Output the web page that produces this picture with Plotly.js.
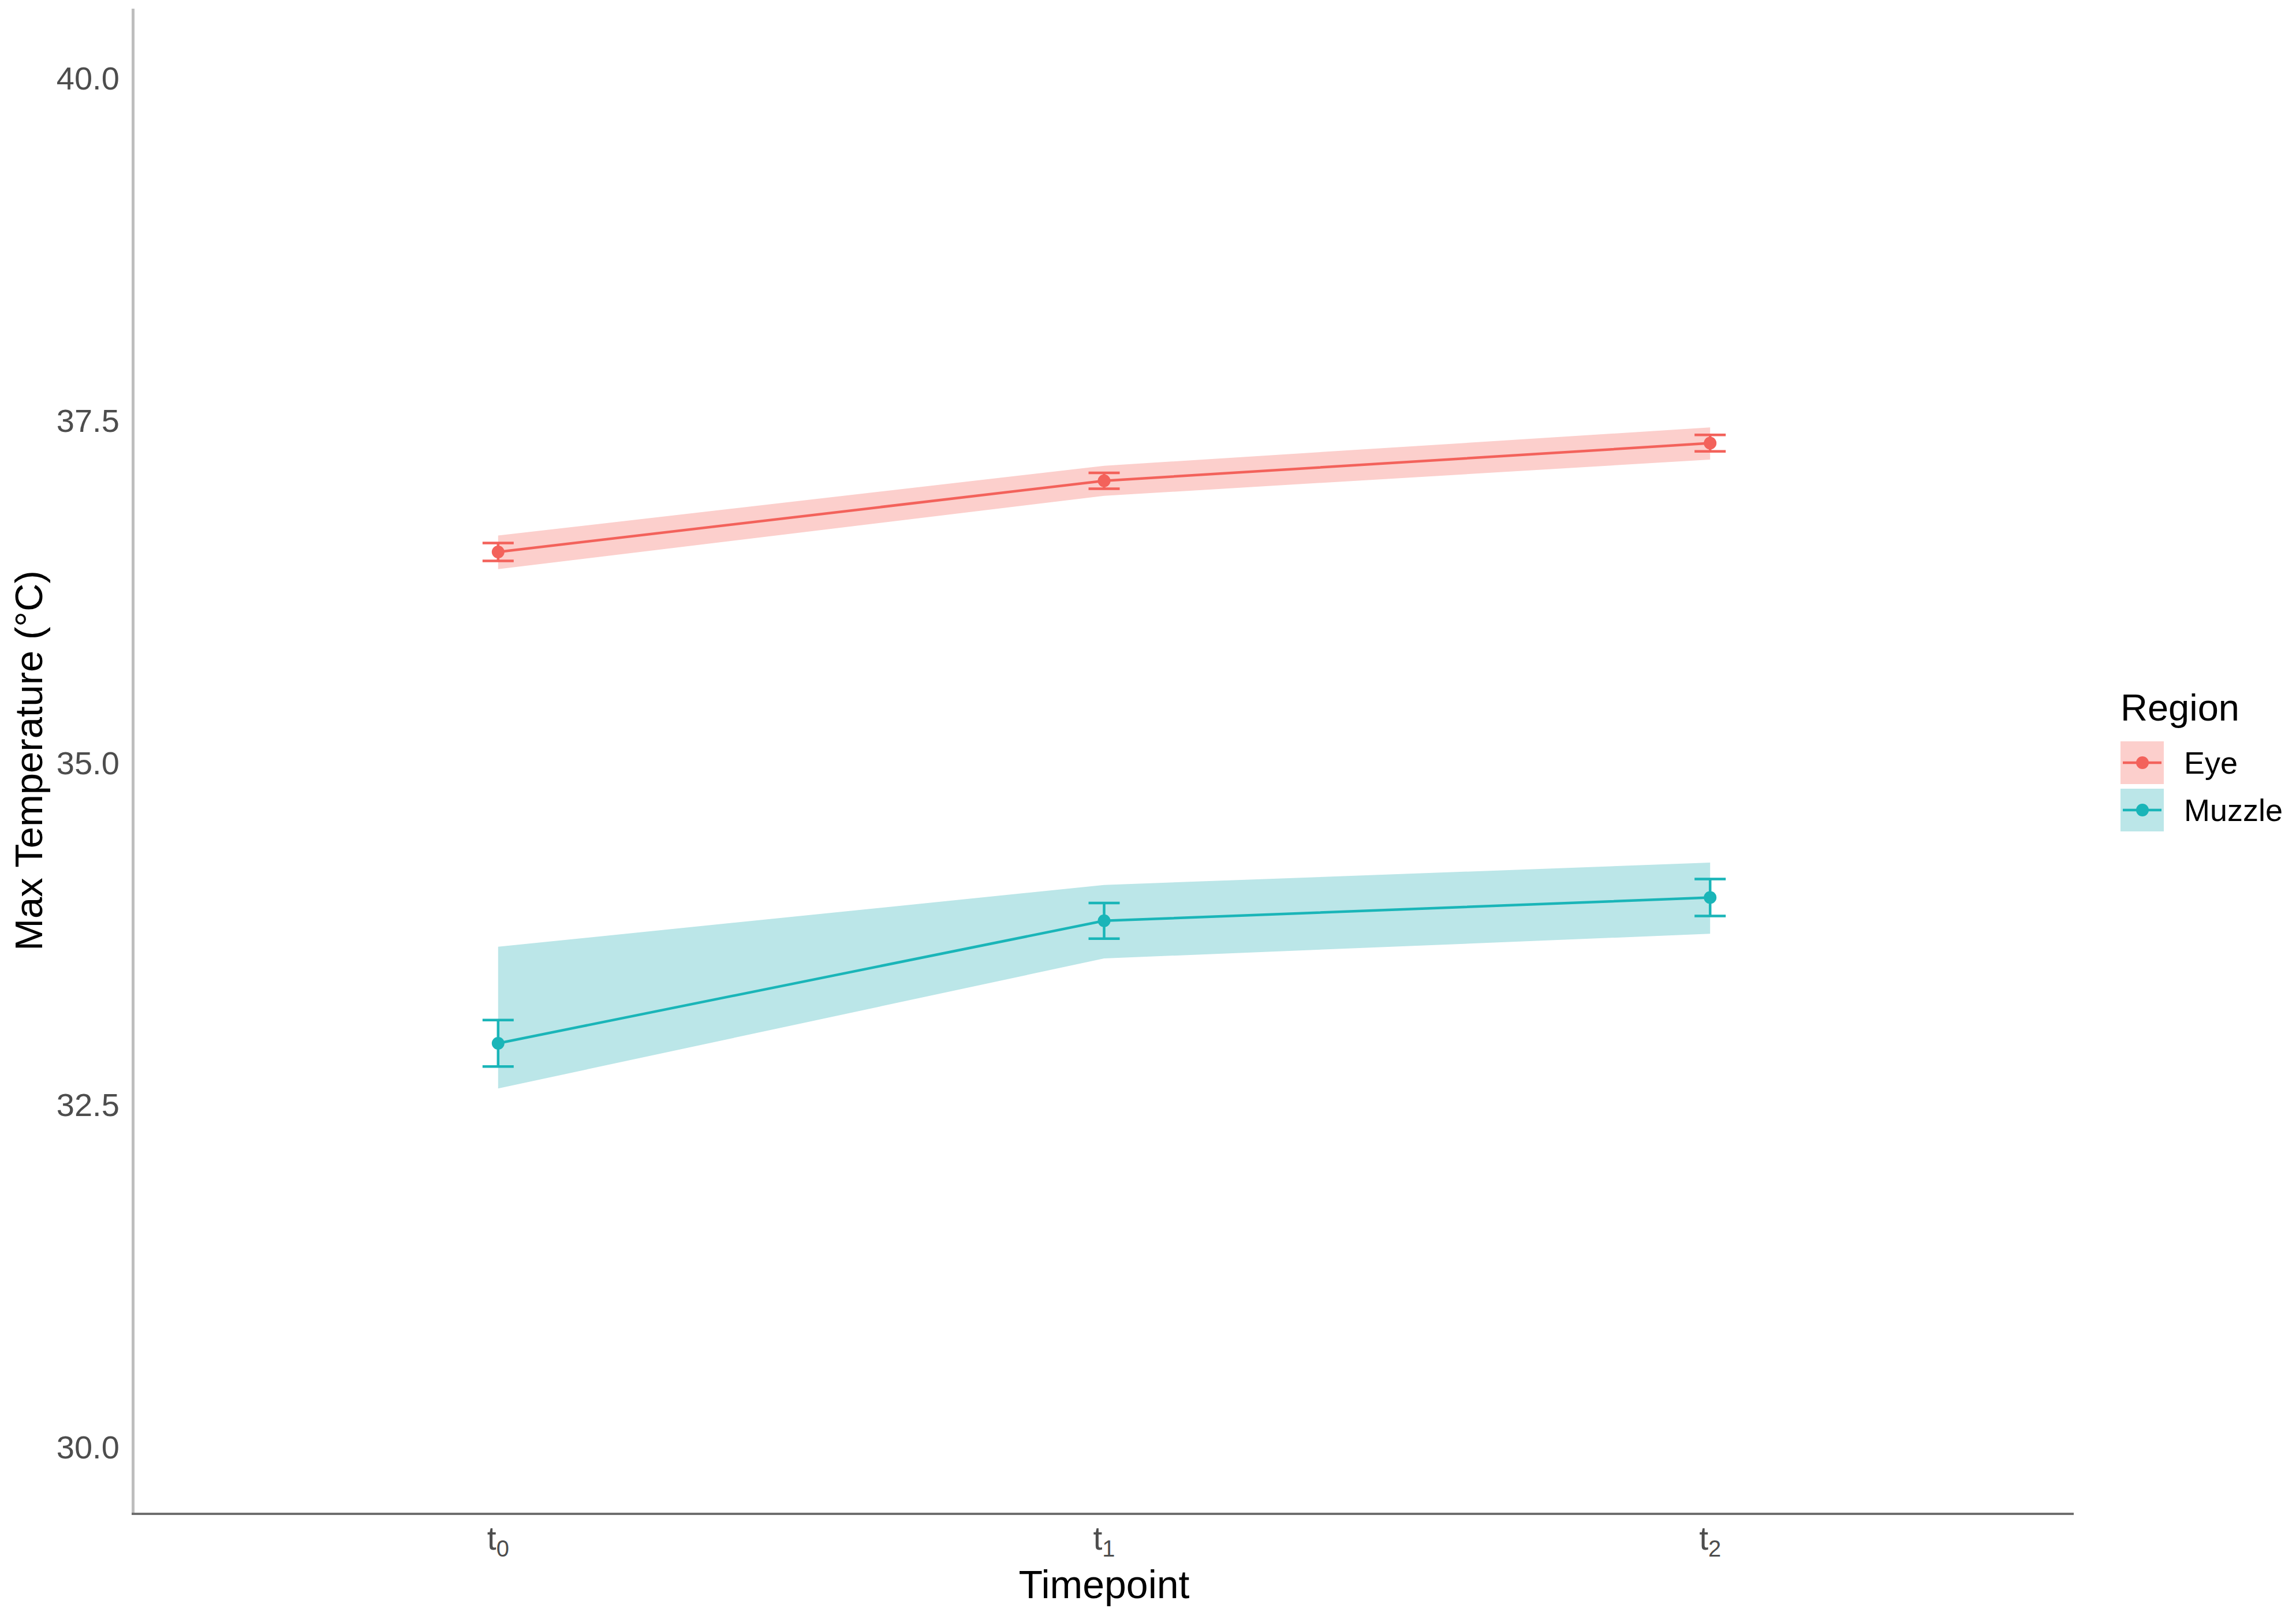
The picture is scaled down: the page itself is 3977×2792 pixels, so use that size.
<!DOCTYPE html>
<html>
<head>
<meta charset="utf-8">
<script src="https://cdn.plot.ly/plotly-3.0.1.min.js"></script>
<style>html,body{margin:0;padding:0;background:#fff;}#chart{width:3977px;height:2792px;}</style>
</head>
<body>
<div id="chart"></div>
<script>
// ---- data ----
const timepoints = ['t<sub>0</sub>', 't<sub>1</sub>', 't<sub>2</sub>'];
const regions = ['Eye', 'Muzzle'];
const eyeMean = [36.54, 37.06, 37.335];
const eyeErr = [0.065, 0.058, 0.06];
const eyeUpper = [36.66, 37.17, 37.45];
const eyeLower = [36.415, 36.95, 37.215];
const muzzleMean = [32.95, 33.845, 34.015];
const muzzleErr = [0.17, 0.13, 0.135];
const muzzleUpper = [33.655, 34.107, 34.27];
const muzzleLower = [32.62, 33.57, 33.75];
const yTicks = [30, 32.5, 35, 37.5, 40];

const colors = {Eye: '#F3625B', Muzzle: '#1AB5B8'};
const fills = {Eye: '#FCCFCC', Muzzle: '#BBE6E8'};

function ribbon(name, upper, lower) {
  return {
    x: timepoints.concat(timepoints.slice().reverse()),
    y: upper.concat(lower.slice().reverse()),
    type: 'scatter', mode: 'lines', fill: 'toself',
    fillcolor: fills[name], line: {width: 0, color: 'rgba(0,0,0,0)'},
    hoverinfo: 'skip', showlegend: false, name: name + ' ribbon'
  };
}
function meanTrace(name, mean, err) {
  return {
    x: timepoints, y: mean, name: name,
    type: 'scatter', mode: 'lines+markers',
    line: {color: colors[name], width: 4.5},
    marker: {color: colors[name], size: 22},
    error_y: {type: 'data', array: err, visible: true, color: colors[name], thickness: 4.5, width: 27},
    showlegend: false
  };
}

const data = [
  ribbon('Eye', eyeUpper, eyeLower),
  ribbon('Muzzle', muzzleUpper, muzzleLower),
  meanTrace('Eye', eyeMean, eyeErr),
  meanTrace('Muzzle', muzzleMean, muzzleErr)
];

const L = 233, R = 3592, T = 15, B = 2620;
const W = R - L, H = B - T;
function px(x) { return (x - L) / W; }
function py(y) { return (B - y) / H; }

// legend (ggplot-style keys: filled square + line + point)
const keyRows = [1321, 1403];
const shapes = [];
const annotations = [{
  xref: 'paper', yref: 'paper', x: px(3671), y: py(1225), xanchor: 'left', yanchor: 'middle',
  text: 'Region', showarrow: false, font: {size: 65, color: '#000000'}
}];
regions.forEach((r, i) => {
  const cy = keyRows[i];
  shapes.push({type: 'rect', xref: 'paper', yref: 'paper', x0: px(3673), x1: px(3748), y0: py(cy + 37), y1: py(cy - 37), fillcolor: fills[r], line: {width: 0}, layer: 'above'});
  shapes.push({type: 'line', xref: 'paper', yref: 'paper', x0: px(3677), x1: px(3744), y0: py(cy), y1: py(cy), line: {color: colors[r], width: 4.5}, layer: 'above'});
  shapes.push({type: 'circle', xref: 'paper', yref: 'paper', x0: px(3700), x1: px(3722), y0: py(cy + 11), y1: py(cy - 11), fillcolor: colors[r], line: {width: 0}, layer: 'above'});
  annotations.push({
    xref: 'paper', yref: 'paper', x: px(3781), y: py(cy), xanchor: 'left', yanchor: 'middle',
    text: r, showarrow: false, font: {size: 54, color: '#000000'}
  });
});

const layout = {
  width: 3977, height: 2792,
  margin: {l: L, r: 3977 - R, t: T, b: 2792 - B, pad: 0},
  paper_bgcolor: '#ffffff', plot_bgcolor: '#ffffff',
  font: {family: 'Liberation Sans, Arial, sans-serif', color: '#000000'},
  showlegend: false,
  xaxis: {
    type: 'category', range: [-0.6, 2.6],
    showgrid: false, zeroline: false,
    showline: true, linecolor: '#6E6E6E', linewidth: 4,
    ticks: '', tickfont: {size: 57, color: '#4D4D4D'},
    ticklabelstandoff: -8,
    title: {text: 'Timepoint', font: {size: 68, color: '#000000'}, standoff: 18}
  },
  yaxis: {
    range: [29.52, 40.51],
    tickvals: yTicks, ticktext: yTicks.map(v => v.toFixed(1)),
    showgrid: false, zeroline: false,
    showline: true, linecolor: '#BEBEBE', linewidth: 5,
    ticks: '', tickfont: {size: 56, color: '#4D4D4D'},
    ticklabelstandoff: 10,
    title: {text: 'Max Temperature (°C)', font: {size: 67, color: '#000000'}, standoff: 4}
  },
  shapes: shapes,
  annotations: annotations
};

Plotly.newPlot('chart', data, layout, {displayModeBar: false, staticPlot: true});
</script>
</body>
</html>
